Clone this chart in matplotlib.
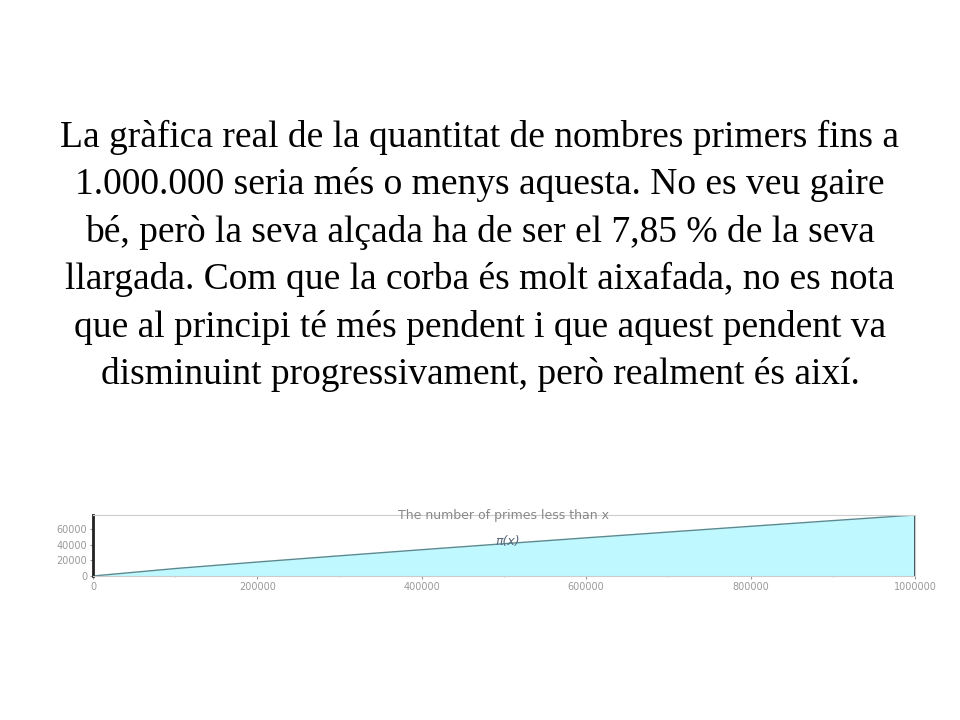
import numpy as np
import matplotlib.pyplot as plt

# text and data
CAPTION = ("La gràfica real de la quantitat de nombres primers fins a\n"
           "1.000.000 seria més o menys aquesta. No es veu gaire\n"
           "bé, però la seva alçada ha de ser el 7,85 % de la seva\n"
           "llargada. Com que la corba és molt aixafada, no es nota\n"
           "que al principi té més pendent i que aquest pendent va\n"
           "disminuint progressivament, però realment és així.")

x_vals = [0, 100000, 200000, 300000, 400000, 500000,
          600000, 700000, 800000, 900000, 1000000]
pi_vals = [0, 9592, 17984, 25997, 33860, 41538,
           49098, 56543, 63951, 71274, 78498]
x_ticks = [0, 200000, 400000, 600000, 800000, 1000000]
y_ticks = [0, 20000, 40000, 60000]

fig = plt.figure(figsize=(9.6, 7.2), dpi=100)

fig.text(0.5, 0.834, CAPTION, ha="center", va="top",
         family="Liberation Serif", fontsize=27, linespacing=1.46)

# chart strip: x 93..915 px, y 515..576 px
ax = fig.add_axes([93 / 960, 1 - 576 / 720, (915 - 93) / 960, 61 / 720])
ax.fill_between(x_vals, pi_vals, 0, color="#c0f8ff", lw=0)
ax.plot(x_vals, pi_vals, color="#5a8a90", lw=1)
ax.vlines(x_vals[-1], 0, pi_vals[-1], color="#304048", lw=2)
ax.set_xlim(0, 1000000)
ax.set_ylim(0, 78498)
ax.set_xticks(x_ticks)
ax.set_yticks(y_ticks)
ax.set_xticks(np.arange(0, 1000001, 100000), minor=True)
ax.set_yticks(np.arange(0, 78000, 5000), minor=True)
ax.set_xticklabels([str(v) for v in x_ticks])
ax.tick_params(labelsize=7, colors="#999999", length=2, pad=2)
ax.tick_params(which="minor", length=1, colors="#aaaaaa")
for s in ["top", "right", "bottom"]:
    ax.spines[s].set_color("#cccccc")
    ax.spines[s].set_linewidth(0.8)
ax.spines["left"].set_color("#222222")
ax.spines["left"].set_linewidth(2)
ax.text(0.5, 1.0, "The number of primes less than x", transform=ax.transAxes,
        fontsize=9, color="#888888", ha="center", va="center")
ax.text(505000, 45000, "π(x)", fontsize=9, color="#556677", ha="center", va="center",
        style="italic")

fig.savefig("out.png", dpi=100)
